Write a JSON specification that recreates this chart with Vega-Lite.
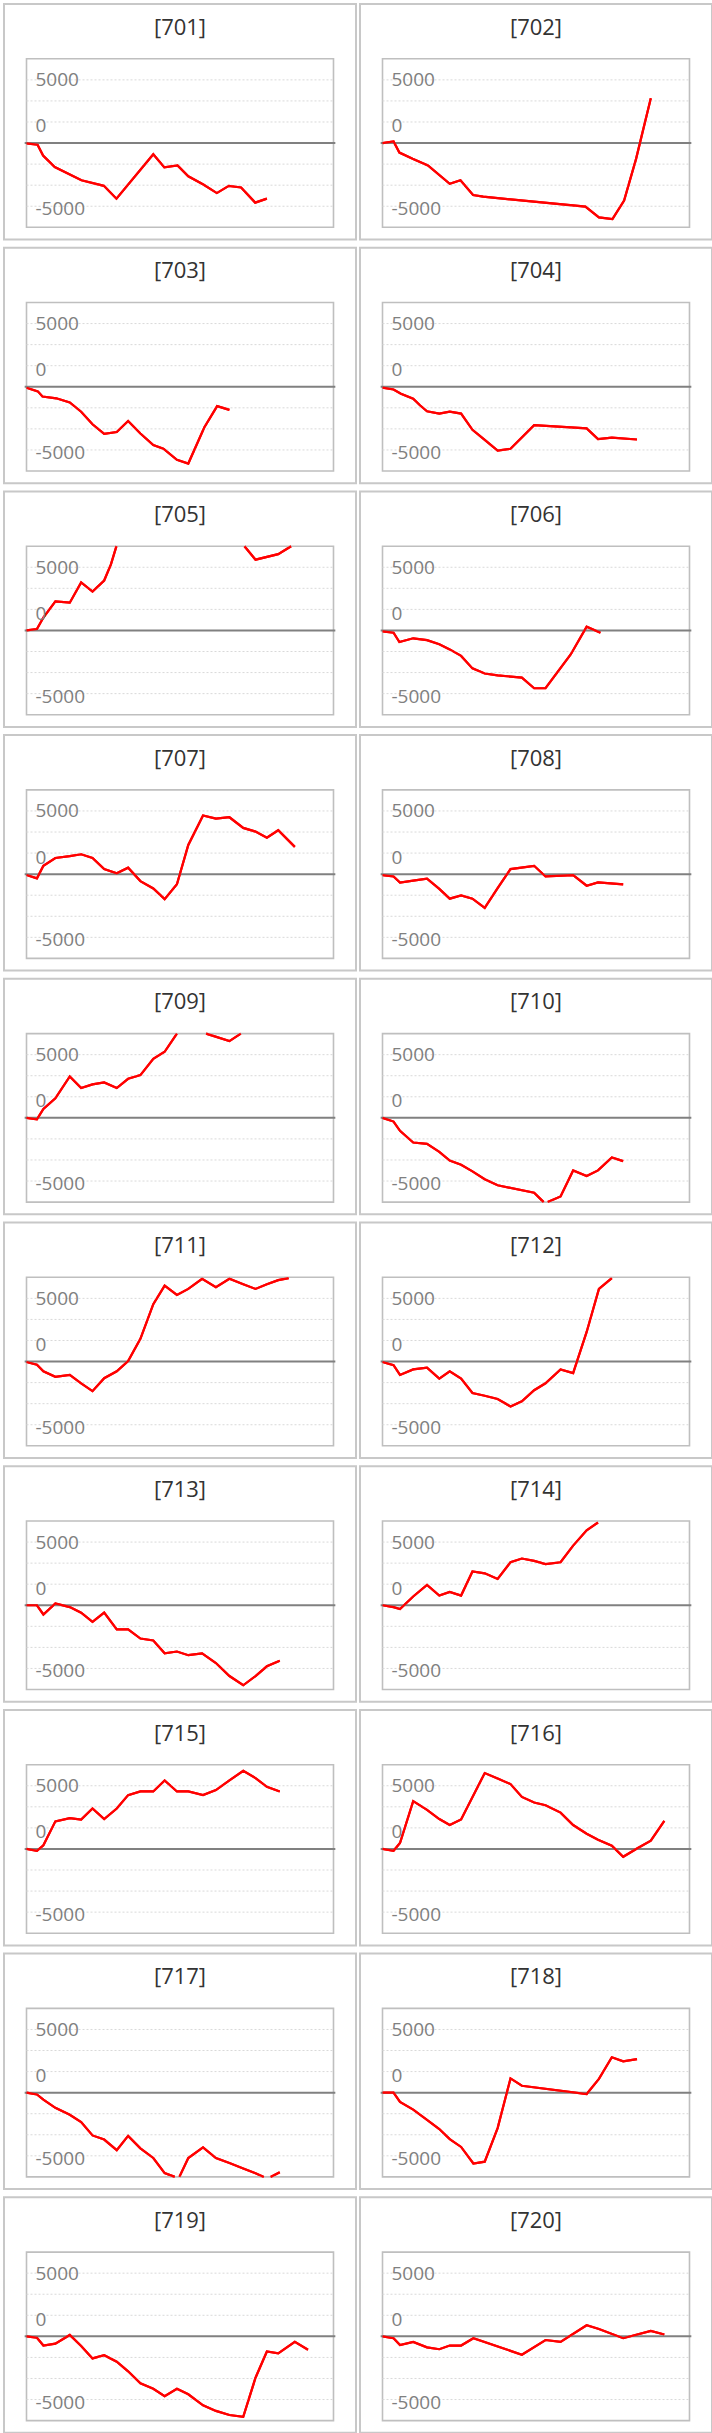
{
  "$schema": "https://vega.github.io/schema/vega-lite/v6.json",
  "background": "white",
  "padding": {"left": 3, "top": 3, "right": 0, "bottom": 0},
  "config": {
    "view": {"stroke": "#c8c8c8", "strokeWidth": 2},
    "font": "Open Sans",
    "header": {"labels": false, "title": null, "labelFontSize": 0, "labelPadding": 0, "labelExpr": "''"},
    "headerFacet": {"labels": false, "title": null, "labelFontSize": 0, "labelPadding": 0, "labelExpr": "''"}
  },
  "data": {
    "values": [
      {"p":"[701]","s":1,"x":0,"v":-26},{"p":"[701]","s":1,"x":3.6,"v":-130},{"p":"[701]","s":1,"x":5.4,"v":-990},{"p":"[701]","s":1,"x":9.2,"v":-1900},{"p":"[701]","s":1,"x":17.9,"v":-2943},{"p":"[701]","s":1,"x":25.2,"v":-3385},{"p":"[701]","s":1,"x":29.3,"v":-4400},{"p":"[701]","s":1,"x":41.3,"v":-885},{"p":"[701]","s":1,"x":44.9,"v":-1927},{"p":"[701]","s":1,"x":49.2,"v":-1771},{"p":"[701]","s":1,"x":52.7,"v":-2630},{"p":"[701]","s":1,"x":57.6,"v":-3281},{"p":"[701]","s":1,"x":62,"v":-3958},{"p":"[701]","s":1,"x":65.9,"v":-3385},{"p":"[701]","s":1,"x":69.9,"v":-3515},{"p":"[701]","s":1,"x":74.5,"v":-4713},{"p":"[701]","s":1,"x":78.3,"v":-4400},
      {"p":"[702]","s":1,"x":0,"v":0},{"p":"[702]","s":1,"x":3.6,"v":130},{"p":"[702]","s":1,"x":5.5,"v":-755},{"p":"[702]","s":1,"x":9.8,"v":-1250},{"p":"[702]","s":1,"x":14.8,"v":-1771},{"p":"[702]","s":1,"x":21.9,"v":-3229},{"p":"[702]","s":1,"x":25.4,"v":-2943},{"p":"[702]","s":1,"x":29.5,"v":-4115},{"p":"[702]","s":1,"x":32.8,"v":-4245},{"p":"[702]","s":1,"x":66.1,"v":-5026},{"p":"[702]","s":1,"x":70.5,"v":-5885},{"p":"[702]","s":1,"x":74.9,"v":-6015},{"p":"[702]","s":1,"x":78.7,"v":-4557},{"p":"[702]","s":1,"x":82.6,"v":-1250},{"p":"[702]","s":1,"x":87.4,"v":3541},
      {"p":"[703]","s":1,"x":0,"v":-73},{"p":"[703]","s":1,"x":3.7,"v":-366},{"p":"[703]","s":1,"x":5.2,"v":-769},{"p":"[703]","s":1,"x":9.7,"v":-915},{"p":"[703]","s":1,"x":14.1,"v":-1244},{"p":"[703]","s":1,"x":17.8,"v":-1976},{"p":"[703]","s":1,"x":21.5,"v":-2965},{"p":"[703]","s":1,"x":25.3,"v":-3733},{"p":"[703]","s":1,"x":29.4,"v":-3587},{"p":"[703]","s":1,"x":33.1,"v":-2709},{"p":"[703]","s":1,"x":37.1,"v":-3697},{"p":"[703]","s":1,"x":41.3,"v":-4612},{"p":"[703]","s":1,"x":44.6,"v":-4905},{"p":"[703]","s":1,"x":49,"v":-5783},{"p":"[703]","s":1,"x":52.7,"v":-6076},{"p":"[703]","s":1,"x":57.9,"v":-3221},{"p":"[703]","s":1,"x":62.1,"v":-1537},{"p":"[703]","s":1,"x":66.1,"v":-1830},
      {"p":"[704]","s":1,"x":0,"v":-73},{"p":"[704]","s":1,"x":3.6,"v":-220},{"p":"[704]","s":1,"x":6,"v":-549},{"p":"[704]","s":1,"x":10,"v":-952},{"p":"[704]","s":1,"x":12.2,"v":-1464},{"p":"[704]","s":1,"x":14.5,"v":-1940},{"p":"[704]","s":1,"x":18.5,"v":-2123},{"p":"[704]","s":1,"x":21.9,"v":-1977},{"p":"[704]","s":1,"x":25.6,"v":-2123},{"p":"[704]","s":1,"x":29.3,"v":-3404},{"p":"[704]","s":1,"x":33.3,"v":-4209},{"p":"[704]","s":1,"x":37.5,"v":-5051},{"p":"[704]","s":1,"x":41.7,"v":-4905},{"p":"[704]","s":1,"x":49.4,"v":-3038},{"p":"[704]","s":1,"x":66.5,"v":-3294},{"p":"[704]","s":1,"x":70.2,"v":-4136},{"p":"[704]","s":1,"x":74.7,"v":-4026},{"p":"[704]","s":1,"x":82.9,"v":-4172},
      {"p":"[705]","s":1,"x":0,"v":0},{"p":"[705]","s":1,"x":3.4,"v":110},{"p":"[705]","s":1,"x":5.5,"v":1025},{"p":"[705]","s":1,"x":9.4,"v":2306},{"p":"[705]","s":1,"x":14.1,"v":2196},{"p":"[705]","s":1,"x":17.8,"v":3806},{"p":"[705]","s":1,"x":21.5,"v":3074},{"p":"[705]","s":1,"x":25.3,"v":3953},{"p":"[705]","s":1,"x":27.5,"v":5234},{"p":"[705]","s":1,"x":29.3,"v":6667},
      {"p":"[705]","s":2,"x":71,"v":6667},{"p":"[705]","s":2,"x":74.6,"v":5600},{"p":"[705]","s":2,"x":82,"v":6039},{"p":"[705]","s":2,"x":86.2,"v":6667},
      {"p":"[706]","s":1,"x":0,"v":-73},{"p":"[706]","s":1,"x":3.6,"v":-183},{"p":"[706]","s":1,"x":5.5,"v":-915},{"p":"[706]","s":1,"x":10,"v":-622},{"p":"[706]","s":1,"x":14.5,"v":-769},{"p":"[706]","s":1,"x":18.5,"v":-1098},{"p":"[706]","s":1,"x":21.9,"v":-1501},{"p":"[706]","s":1,"x":25.6,"v":-2013},{"p":"[706]","s":1,"x":29.3,"v":-3001},{"p":"[706]","s":1,"x":33.3,"v":-3404},{"p":"[706]","s":1,"x":37.5,"v":-3550},{"p":"[706]","s":1,"x":45.4,"v":-3733},{"p":"[706]","s":1,"x":49.4,"v":-4575},{"p":"[706]","s":1,"x":53.1,"v":-4575},{"p":"[706]","s":1,"x":61.3,"v":-1903},{"p":"[706]","s":1,"x":66.5,"v":293},{"p":"[706]","s":1,"x":71,"v":-183},
      {"p":"[707]","s":1,"x":0,"v":-73},{"p":"[707]","s":1,"x":3.4,"v":-329},{"p":"[707]","s":1,"x":5.5,"v":659},{"p":"[707]","s":1,"x":9.4,"v":1281},{"p":"[707]","s":1,"x":14.1,"v":1427},{"p":"[707]","s":1,"x":17.8,"v":1574},{"p":"[707]","s":1,"x":21.5,"v":1281},{"p":"[707]","s":1,"x":25.3,"v":403},{"p":"[707]","s":1,"x":29.4,"v":73},{"p":"[707]","s":1,"x":33.1,"v":512},{"p":"[707]","s":1,"x":37.1,"v":-549},{"p":"[707]","s":1,"x":41.3,"v":-1135},{"p":"[707]","s":1,"x":45,"v":-1976},{"p":"[707]","s":1,"x":49,"v":-805},{"p":"[707]","s":1,"x":52.7,"v":2306},{"p":"[707]","s":1,"x":57.5,"v":4648},{"p":"[707]","s":1,"x":61.7,"v":4392},{"p":"[707]","s":1,"x":66.1,"v":4502},{"p":"[707]","s":1,"x":70.6,"v":3660},{"p":"[707]","s":1,"x":74.6,"v":3367},{"p":"[707]","s":1,"x":78.3,"v":2891},{"p":"[707]","s":1,"x":82,"v":3477},{"p":"[707]","s":1,"x":87.4,"v":2159},
      {"p":"[708]","s":1,"x":0,"v":-73},{"p":"[708]","s":1,"x":3.6,"v":-183},{"p":"[708]","s":1,"x":5.7,"v":-659},{"p":"[708]","s":1,"x":10,"v":-512},{"p":"[708]","s":1,"x":14.5,"v":-366},{"p":"[708]","s":1,"x":18.5,"v":-1171},{"p":"[708]","s":1,"x":21.9,"v":-1940},{"p":"[708]","s":1,"x":25.6,"v":-1684},{"p":"[708]","s":1,"x":29.3,"v":-1940},{"p":"[708]","s":1,"x":33.3,"v":-2672},{"p":"[708]","s":1,"x":37.5,"v":-1098},{"p":"[708]","s":1,"x":41.7,"v":403},{"p":"[708]","s":1,"x":49.4,"v":659},{"p":"[708]","s":1,"x":53.1,"v":-183},{"p":"[708]","s":1,"x":62.1,"v":-73},{"p":"[708]","s":1,"x":66.5,"v":-915},{"p":"[708]","s":1,"x":70.2,"v":-659},{"p":"[708]","s":1,"x":78.4,"v":-805},
      {"p":"[709]","s":1,"x":0,"v":0},{"p":"[709]","s":1,"x":3.4,"v":-110},{"p":"[709]","s":1,"x":5.5,"v":700},{"p":"[709]","s":1,"x":9.4,"v":1546},{"p":"[709]","s":1,"x":14.1,"v":3276},{"p":"[709]","s":1,"x":17.8,"v":2356},{"p":"[709]","s":1,"x":21.5,"v":2650},{"p":"[709]","s":1,"x":25.3,"v":2797},{"p":"[709]","s":1,"x":29.4,"v":2356},{"p":"[709]","s":1,"x":33.1,"v":3092},{"p":"[709]","s":1,"x":37.1,"v":3386},{"p":"[709]","s":1,"x":41.3,"v":4674},{"p":"[709]","s":1,"x":45,"v":5226},{"p":"[709]","s":1,"x":49,"v":6667},
      {"p":"[709]","s":2,"x":58.5,"v":6667},{"p":"[709]","s":2,"x":66.1,"v":6070},{"p":"[709]","s":2,"x":69.8,"v":6667},
      {"p":"[710]","s":1,"x":0,"v":0},{"p":"[710]","s":1,"x":3.6,"v":-294},{"p":"[710]","s":1,"x":5.7,"v":-1030},{"p":"[710]","s":1,"x":10,"v":-1950},{"p":"[710]","s":1,"x":14.5,"v":-2060},{"p":"[710]","s":1,"x":18.5,"v":-2686},{"p":"[710]","s":1,"x":21.9,"v":-3385},{"p":"[710]","s":1,"x":25.6,"v":-3716},{"p":"[710]","s":1,"x":29.3,"v":-4231},{"p":"[710]","s":1,"x":33.3,"v":-4857},{"p":"[710]","s":1,"x":37.5,"v":-5335},{"p":"[710]","s":1,"x":49.4,"v":-5924},{"p":"[710]","s":1,"x":52.5,"v":-6667},
      {"p":"[710]","s":2,"x":53.8,"v":-6667},{"p":"[710]","s":2,"x":58,"v":-6219},{"p":"[710]","s":2,"x":62.1,"v":-4158},{"p":"[710]","s":2,"x":66.5,"v":-4600},{"p":"[710]","s":2,"x":70.2,"v":-4158},{"p":"[710]","s":2,"x":74.7,"v":-3128},{"p":"[710]","s":2,"x":78.4,"v":-3422},
      {"p":"[711]","s":1,"x":0,"v":-37},{"p":"[711]","s":1,"x":3.4,"v":-256},{"p":"[711]","s":1,"x":5.5,"v":-769},{"p":"[711]","s":1,"x":9.4,"v":-1208},{"p":"[711]","s":1,"x":14.1,"v":-1061},{"p":"[711]","s":1,"x":17.8,"v":-1720},{"p":"[711]","s":1,"x":21.5,"v":-2342},{"p":"[711]","s":1,"x":25.3,"v":-1318},{"p":"[711]","s":1,"x":29.4,"v":-769},{"p":"[711]","s":1,"x":33.1,"v":37},{"p":"[711]","s":1,"x":37.1,"v":1793},{"p":"[711]","s":1,"x":41.3,"v":4538},{"p":"[711]","s":1,"x":45,"v":6002},{"p":"[711]","s":1,"x":49,"v":5270},{"p":"[711]","s":1,"x":52.7,"v":5746},{"p":"[711]","s":1,"x":57.2,"v":6550},{"p":"[711]","s":1,"x":61.7,"v":5892},{"p":"[711]","s":1,"x":66.1,"v":6550},{"p":"[711]","s":1,"x":70.6,"v":6112},{"p":"[711]","s":1,"x":74.6,"v":5746},{"p":"[711]","s":1,"x":78.3,"v":6112},{"p":"[711]","s":1,"x":82,"v":6441},{"p":"[711]","s":1,"x":85.4,"v":6600},
      {"p":"[712]","s":1,"x":0,"v":-37},{"p":"[712]","s":1,"x":3.6,"v":-293},{"p":"[712]","s":1,"x":5.7,"v":-1061},{"p":"[712]","s":1,"x":10,"v":-622},{"p":"[712]","s":1,"x":14.5,"v":-476},{"p":"[712]","s":1,"x":18.5,"v":-1354},{"p":"[712]","s":1,"x":21.9,"v":-769},{"p":"[712]","s":1,"x":25.6,"v":-1354},{"p":"[712]","s":1,"x":29.3,"v":-2489},{"p":"[712]","s":1,"x":33.3,"v":-2708},{"p":"[712]","s":1,"x":37.5,"v":-2964},{"p":"[712]","s":1,"x":41.7,"v":-3550},{"p":"[712]","s":1,"x":45.4,"v":-3148},{"p":"[712]","s":1,"x":49.4,"v":-2269},{"p":"[712]","s":1,"x":53.1,"v":-1720},{"p":"[712]","s":1,"x":58,"v":-622},{"p":"[712]","s":1,"x":62.1,"v":-915},{"p":"[712]","s":1,"x":66.5,"v":2342},{"p":"[712]","s":1,"x":70.5,"v":5746},{"p":"[712]","s":1,"x":74.7,"v":6600},
      {"p":"[713]","s":1,"x":0,"v":0},{"p":"[713]","s":1,"x":3.4,"v":0},{"p":"[713]","s":1,"x":5.5,"v":-732},{"p":"[713]","s":1,"x":9.4,"v":146},{"p":"[713]","s":1,"x":14.1,"v":-146},{"p":"[713]","s":1,"x":17.8,"v":-585},{"p":"[713]","s":1,"x":21.5,"v":-1318},{"p":"[713]","s":1,"x":25.3,"v":-585},{"p":"[713]","s":1,"x":29.4,"v":-1903},{"p":"[713]","s":1,"x":33.1,"v":-1903},{"p":"[713]","s":1,"x":37.1,"v":-2635},{"p":"[713]","s":1,"x":41.3,"v":-2782},{"p":"[713]","s":1,"x":45,"v":-3806},{"p":"[713]","s":1,"x":49,"v":-3660},{"p":"[713]","s":1,"x":52.7,"v":-3953},{"p":"[713]","s":1,"x":57.2,"v":-3806},{"p":"[713]","s":1,"x":61.7,"v":-4575},{"p":"[713]","s":1,"x":66.1,"v":-5600},{"p":"[713]","s":1,"x":70.6,"v":-6332},{"p":"[713]","s":1,"x":74.6,"v":-5600},{"p":"[713]","s":1,"x":78.3,"v":-4831},{"p":"[713]","s":1,"x":82.5,"v":-4392},
      {"p":"[714]","s":1,"x":0,"v":0},{"p":"[714]","s":1,"x":3.6,"v":-146},{"p":"[714]","s":1,"x":5.7,"v":-293},{"p":"[714]","s":1,"x":10,"v":695},{"p":"[714]","s":1,"x":14.5,"v":1610},{"p":"[714]","s":1,"x":18.5,"v":769},{"p":"[714]","s":1,"x":21.9,"v":1061},{"p":"[714]","s":1,"x":25.6,"v":769},{"p":"[714]","s":1,"x":29.3,"v":2672},{"p":"[714]","s":1,"x":33.3,"v":2525},{"p":"[714]","s":1,"x":37.5,"v":2086},{"p":"[714]","s":1,"x":41.7,"v":3404},{"p":"[714]","s":1,"x":45.4,"v":3697},{"p":"[714]","s":1,"x":49.4,"v":3514},{"p":"[714]","s":1,"x":53.1,"v":3257},{"p":"[714]","s":1,"x":58,"v":3404},{"p":"[714]","s":1,"x":62.1,"v":4722},{"p":"[714]","s":1,"x":66.5,"v":5929},{"p":"[714]","s":1,"x":70.2,"v":6550},
      {"p":"[715]","s":1,"x":0,"v":0},{"p":"[715]","s":1,"x":3.4,"v":-146},{"p":"[715]","s":1,"x":5.5,"v":291},{"p":"[715]","s":1,"x":9.4,"v":2184},{"p":"[715]","s":1,"x":14.1,"v":2439},{"p":"[715]","s":1,"x":17.8,"v":2330},{"p":"[715]","s":1,"x":21.5,"v":3203},{"p":"[715]","s":1,"x":25.3,"v":2366},{"p":"[715]","s":1,"x":29.4,"v":3203},{"p":"[715]","s":1,"x":33.1,"v":4259},{"p":"[715]","s":1,"x":37.1,"v":4550},{"p":"[715]","s":1,"x":41.3,"v":4550},{"p":"[715]","s":1,"x":45,"v":5424},{"p":"[715]","s":1,"x":49,"v":4550},{"p":"[715]","s":1,"x":52.7,"v":4550},{"p":"[715]","s":1,"x":57.5,"v":4259},{"p":"[715]","s":1,"x":61.7,"v":4659},{"p":"[715]","s":1,"x":66.1,"v":5424},{"p":"[715]","s":1,"x":70.6,"v":6188},{"p":"[715]","s":1,"x":74.6,"v":5606},{"p":"[715]","s":1,"x":78.3,"v":4914},{"p":"[715]","s":1,"x":82.5,"v":4550},
      {"p":"[716]","s":1,"x":0,"v":0},{"p":"[716]","s":1,"x":3.6,"v":-146},{"p":"[716]","s":1,"x":5.7,"v":473},{"p":"[716]","s":1,"x":10,"v":3786},{"p":"[716]","s":1,"x":14.5,"v":3094},{"p":"[716]","s":1,"x":18.5,"v":2366},{"p":"[716]","s":1,"x":21.9,"v":1893},{"p":"[716]","s":1,"x":25.6,"v":2330},{"p":"[716]","s":1,"x":33.3,"v":6006},{"p":"[716]","s":1,"x":37.5,"v":5570},{"p":"[716]","s":1,"x":41.7,"v":5133},{"p":"[716]","s":1,"x":45.4,"v":4114},{"p":"[716]","s":1,"x":49.4,"v":3677},{"p":"[716]","s":1,"x":53.1,"v":3458},{"p":"[716]","s":1,"x":58,"v":2876},{"p":"[716]","s":1,"x":62.1,"v":1893},{"p":"[716]","s":1,"x":66.5,"v":1201},{"p":"[716]","s":1,"x":70.2,"v":728},{"p":"[716]","s":1,"x":74.7,"v":255},{"p":"[716]","s":1,"x":78.4,"v":-619},{"p":"[716]","s":1,"x":82.9,"v":36},{"p":"[716]","s":1,"x":87.4,"v":655},{"p":"[716]","s":1,"x":91.8,"v":2220},
      {"p":"[717]","s":1,"x":0,"v":0},{"p":"[717]","s":1,"x":3.4,"v":-146},{"p":"[717]","s":1,"x":5.5,"v":-546},{"p":"[717]","s":1,"x":9.4,"v":-1201},{"p":"[717]","s":1,"x":14.1,"v":-1747},{"p":"[717]","s":1,"x":17.8,"v":-2330},{"p":"[717]","s":1,"x":21.5,"v":-3385},{"p":"[717]","s":1,"x":25.3,"v":-3713},{"p":"[717]","s":1,"x":29.4,"v":-4550},{"p":"[717]","s":1,"x":33.1,"v":-3422},{"p":"[717]","s":1,"x":37.1,"v":-4405},{"p":"[717]","s":1,"x":41.3,"v":-5170},{"p":"[717]","s":1,"x":45,"v":-6370},{"p":"[717]","s":1,"x":48.3,"v":-6667},
      {"p":"[717]","s":2,"x":49.8,"v":-6667},{"p":"[717]","s":2,"x":52.7,"v":-5170},{"p":"[717]","s":2,"x":57.5,"v":-4332},{"p":"[717]","s":2,"x":61.7,"v":-5170},{"p":"[717]","s":2,"x":66.1,"v":-5570},{"p":"[717]","s":2,"x":70.6,"v":-6006},{"p":"[717]","s":2,"x":74.6,"v":-6370},{"p":"[717]","s":2,"x":77.3,"v":-6667},
      {"p":"[717]","s":3,"x":79.5,"v":-6667},{"p":"[717]","s":3,"x":82.5,"v":-6297},
      {"p":"[718]","s":1,"x":0,"v":0},{"p":"[718]","s":1,"x":3.6,"v":0},{"p":"[718]","s":1,"x":5.7,"v":-728},{"p":"[718]","s":1,"x":10,"v":-1347},{"p":"[718]","s":1,"x":14.5,"v":-2148},{"p":"[718]","s":1,"x":18.5,"v":-2876},{"p":"[718]","s":1,"x":21.9,"v":-3677},{"p":"[718]","s":1,"x":25.6,"v":-4296},{"p":"[718]","s":1,"x":29.6,"v":-5606},{"p":"[718]","s":1,"x":33.3,"v":-5461},{"p":"[718]","s":1,"x":37.5,"v":-2803},{"p":"[718]","s":1,"x":41.7,"v":1128},{"p":"[718]","s":1,"x":45.4,"v":546},{"p":"[718]","s":1,"x":66.5,"v":-109},{"p":"[718]","s":1,"x":70.5,"v":1092},{"p":"[718]","s":1,"x":74.7,"v":2803},{"p":"[718]","s":1,"x":78.4,"v":2475},{"p":"[718]","s":1,"x":82.9,"v":2657},
      {"p":"[719]","s":1,"x":0,"v":0},{"p":"[719]","s":1,"x":3.4,"v":-109},{"p":"[719]","s":1,"x":5.5,"v":-728},{"p":"[719]","s":1,"x":9.4,"v":-582},{"p":"[719]","s":1,"x":14.1,"v":109},{"p":"[719]","s":1,"x":17.8,"v":-764},{"p":"[719]","s":1,"x":21.5,"v":-1747},{"p":"[719]","s":1,"x":25.3,"v":-1492},{"p":"[719]","s":1,"x":29.4,"v":-2002},{"p":"[719]","s":1,"x":33.1,"v":-2766},{"p":"[719]","s":1,"x":37.1,"v":-3713},{"p":"[719]","s":1,"x":41.3,"v":-4150},{"p":"[719]","s":1,"x":45,"v":-4732},{"p":"[719]","s":1,"x":49,"v":-4150},{"p":"[719]","s":1,"x":52.7,"v":-4586},{"p":"[719]","s":1,"x":57.5,"v":-5461},{"p":"[719]","s":1,"x":61.7,"v":-5898},{"p":"[719]","s":1,"x":66.1,"v":-6224},{"p":"[719]","s":1,"x":70.6,"v":-6370},{"p":"[719]","s":1,"x":74.6,"v":-3276},{"p":"[719]","s":1,"x":78.3,"v":-1201},{"p":"[719]","s":1,"x":82,"v":-1347},{"p":"[719]","s":1,"x":87.4,"v":-437},{"p":"[719]","s":1,"x":91.7,"v":-1056},
      {"p":"[720]","s":1,"x":0,"v":0},{"p":"[720]","s":1,"x":3.6,"v":-146},{"p":"[720]","s":1,"x":5.7,"v":-692},{"p":"[720]","s":1,"x":10,"v":-437},{"p":"[720]","s":1,"x":14.5,"v":-874},{"p":"[720]","s":1,"x":18.5,"v":-1019},{"p":"[720]","s":1,"x":21.9,"v":-728},{"p":"[720]","s":1,"x":25.6,"v":-728},{"p":"[720]","s":1,"x":29.6,"v":-146},{"p":"[720]","s":1,"x":45.4,"v":-1456},{"p":"[720]","s":1,"x":53.1,"v":-291},{"p":"[720]","s":1,"x":58,"v":-437},{"p":"[720]","s":1,"x":66.5,"v":874},{"p":"[720]","s":1,"x":70.5,"v":582},{"p":"[720]","s":1,"x":78.4,"v":-146},{"p":"[720]","s":1,"x":87.4,"v":437},{"p":"[720]","s":1,"x":91.8,"v":146}
    ]
  },
  "facet": {"field": "p", "type": "nominal", "header": {"labels": false, "title": null, "labelFontSize": 0, "labelPadding": 0, "labelExpr": "''"}},
  "columns": 2,
  "spacing": {"row": 5.7, "column": 2},
  "resolve": {"axis": {"y": "independent"}},
  "spec": {
    "width": 352,
    "height": 235.5,
    "layer": [
      {
        "mark": {"type": "line", "color": "#ff0000", "strokeWidth": 2.2},
        "encoding": {
          "x": {"field": "x", "type": "quantitative", "scale": {"domain": [-7.33, 107.33], "nice": false, "zero": false}, "axis": null},
          "y": {
            "field": "v",
            "type": "quantitative",
            "scale": {"domain": [-7632, 11003], "nice": false, "zero": false},
            "axis": {
              "title": null,
              "values": [5000, 1350, -5200],
              "labelExpr": "datum.value > 4000 ? '5000' : datum.value < -4000 ? '-5000' : '0'",
              "labelAlign": "left",
              "labelBaseline": "middle",
              "labelPadding": -31,
              "labelFont": "Open Sans",
              "labelFontSize": 19,
              "labelColor": "#808080",
              "labelFlush": false,
              "labelOverlap": false,
              "labelBound": false,
              "ticks": false,
              "tickSize": 0,
              "domain": false,
              "grid": false,
              "zindex": 1
            }
          },
          "detail": {"field": "s"}
        }
      },
      {
        "transform": [{"aggregate": [{"op": "count", "as": "n"}], "groupby": ["p"]}],
        "mark": {"type": "rect", "fillOpacity": 0, "stroke": "#bfbfbf", "strokeWidth": 1.6},
        "encoding": {
          "x": {"datum": 0, "type": "quantitative", "scale": {"domain": [-7.33, 107.33], "nice": false, "zero": false}, "axis": null},
          "x2": {"datum": 100},
          "y": {"datum": -6666.7, "type": "quantitative", "scale": {"domain": [-7632, 11003], "nice": false, "zero": false}},
          "y2": {"datum": 6666.7}
        }
      },
      {
        "transform": [{"aggregate": [{"op": "count", "as": "n"}], "groupby": ["p"]}],
        "mark": {"type": "rule", "color": "#d9d9d9", "strokeWidth": 1, "strokeDash": [2, 2]},
        "encoding": {
          "x": {"datum": 0, "type": "quantitative", "scale": {"domain": [-7.33, 107.33], "nice": false, "zero": false}, "axis": null},
          "x2": {"datum": 100},
          "y": {"datum": 5000, "type": "quantitative", "scale": {"domain": [-7632, 11003], "nice": false, "zero": false}}
        }
      },
      {
        "transform": [{"aggregate": [{"op": "count", "as": "n"}], "groupby": ["p"]}],
        "mark": {"type": "rule", "color": "#d9d9d9", "strokeWidth": 1, "strokeDash": [2, 2]},
        "encoding": {
          "x": {"datum": 0, "type": "quantitative", "scale": {"domain": [-7.33, 107.33], "nice": false, "zero": false}, "axis": null},
          "x2": {"datum": 100},
          "y": {"datum": 3333.3, "type": "quantitative", "scale": {"domain": [-7632, 11003], "nice": false, "zero": false}}
        }
      },
      {
        "transform": [{"aggregate": [{"op": "count", "as": "n"}], "groupby": ["p"]}],
        "mark": {"type": "rule", "color": "#d9d9d9", "strokeWidth": 1, "strokeDash": [2, 2]},
        "encoding": {
          "x": {"datum": 0, "type": "quantitative", "scale": {"domain": [-7.33, 107.33], "nice": false, "zero": false}, "axis": null},
          "x2": {"datum": 100},
          "y": {"datum": 1666.7, "type": "quantitative", "scale": {"domain": [-7632, 11003], "nice": false, "zero": false}}
        }
      },
      {
        "transform": [{"aggregate": [{"op": "count", "as": "n"}], "groupby": ["p"]}],
        "mark": {"type": "rule", "color": "#d9d9d9", "strokeWidth": 1, "strokeDash": [2, 2]},
        "encoding": {
          "x": {"datum": 0, "type": "quantitative", "scale": {"domain": [-7.33, 107.33], "nice": false, "zero": false}, "axis": null},
          "x2": {"datum": 100},
          "y": {"datum": -1666.7, "type": "quantitative", "scale": {"domain": [-7632, 11003], "nice": false, "zero": false}}
        }
      },
      {
        "transform": [{"aggregate": [{"op": "count", "as": "n"}], "groupby": ["p"]}],
        "mark": {"type": "rule", "color": "#d9d9d9", "strokeWidth": 1, "strokeDash": [2, 2]},
        "encoding": {
          "x": {"datum": 0, "type": "quantitative", "scale": {"domain": [-7.33, 107.33], "nice": false, "zero": false}, "axis": null},
          "x2": {"datum": 100},
          "y": {"datum": -3333.3, "type": "quantitative", "scale": {"domain": [-7632, 11003], "nice": false, "zero": false}}
        }
      },
      {
        "transform": [{"aggregate": [{"op": "count", "as": "n"}], "groupby": ["p"]}],
        "mark": {"type": "rule", "color": "#d9d9d9", "strokeWidth": 1, "strokeDash": [2, 2]},
        "encoding": {
          "x": {"datum": 0, "type": "quantitative", "scale": {"domain": [-7.33, 107.33], "nice": false, "zero": false}, "axis": null},
          "x2": {"datum": 100},
          "y": {"datum": -5000, "type": "quantitative", "scale": {"domain": [-7632, 11003], "nice": false, "zero": false}}
        }
      },
      {
        "transform": [{"aggregate": [{"op": "count", "as": "n"}], "groupby": ["p"]}],
        "mark": {"type": "rule", "color": "#808080", "strokeWidth": 2},
        "encoding": {
          "x": {"datum": -0.6, "type": "quantitative", "scale": {"domain": [-7.33, 107.33], "nice": false, "zero": false}, "axis": null},
          "x2": {"datum": 100.6},
          "y": {"datum": 0, "type": "quantitative", "scale": {"domain": [-7632, 11003], "nice": false, "zero": false}}
        }
      },
      {
        "transform": [{"aggregate": [{"op": "count", "as": "n"}], "groupby": ["p"]}],
        "mark": {"type": "text", "font": "Open Sans", "fontSize": 22, "color": "#333333", "align": "center", "baseline": "alphabetic"},
        "encoding": {
          "x": {"datum": 50, "type": "quantitative", "scale": {"domain": [-7.33, 107.33], "nice": false, "zero": false}, "axis": null},
          "y": {"datum": 8574, "type": "quantitative", "scale": {"domain": [-7632, 11003], "nice": false, "zero": false}},
          "text": {"field": "p"}
        }
      },
      {
        "mark": {"type": "line", "color": "#ff0000", "strokeWidth": 2.2},
        "encoding": {
          "x": {"field": "x", "type": "quantitative", "scale": {"domain": [-7.33, 107.33], "nice": false, "zero": false}, "axis": null},
          "y": {"field": "v", "type": "quantitative", "scale": {"domain": [-7632, 11003], "nice": false, "zero": false}},
          "detail": {"field": "s"}
        }
      }
    ]
  }
}
